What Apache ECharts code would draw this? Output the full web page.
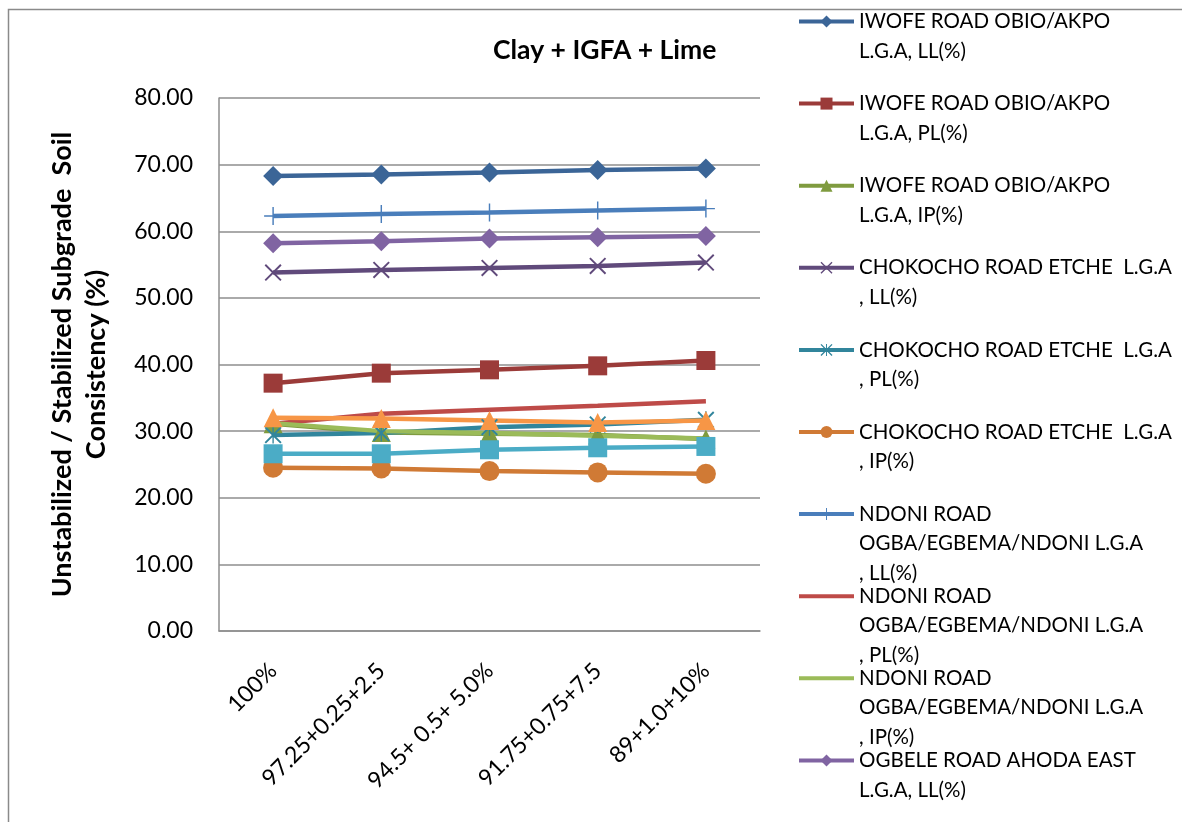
<!DOCTYPE html>
<html>
<head>
<meta charset="utf-8">
<title>Clay + IGFA + Lime</title>
<script src="https://cdn.jsdelivr.net/npm/echarts@6.0.0/dist/echarts.min.js"></script>
<style>
  html, body { margin: 0; padding: 0; background: #ffffff; }
  #chart { width: 1182px; height: 822px; }
</style>
</head>
<body>
<div id="chart"></div>
<script>
// Mix proportions (Clay + IGFA + Lime)
const categories = ['100%', '97.25+0.25+2.5', '94.5+ 0.5+ 5.0%', '91.75+0.75+7.5', '89+1.0+10%'];

// Atterberg limits per road, in %
const iwofeLL = [68.3, 68.5, 68.8, 69.2, 69.4];
const iwofePL = [37.2, 38.7, 39.2, 39.8, 40.6];
const iwofeIP = [31.1, 29.8, 29.6, 29.4, 28.8];
const chokochoLL = [53.8, 54.2, 54.5, 54.8, 55.3];
const chokochoPL = [29.4, 29.7, 30.6, 31.0, 31.7];
const chokochoIP = [24.5, 24.4, 24.0, 23.8, 23.6];
const ndoniLL = [62.3, 62.6, 62.8, 63.1, 63.4];
const ndoniPL = [31.1, 32.6, 33.2, 33.8, 34.5];
const ndoniIP = [31.2, 30.0, 29.7, 29.3, 28.9];
const ogbeleLL = [58.2, 58.5, 58.9, 59.1, 59.3];
const ogbelePL = [26.6, 26.6, 27.2, 27.5, 27.7];
const ogbeleIP = [32.0, 31.9, 31.6, 31.3, 31.6];

// Series names (first text line / rest, as wrapped in the key)
const seriesNames = [
  ['IWOFE ROAD OBIO/AKPO', 'L.G.A, LL(%)'],
  ['IWOFE ROAD OBIO/AKPO', 'L.G.A, PL(%)'],
  ['IWOFE ROAD OBIO/AKPO', 'L.G.A, IP(%)'],
  ['CHOKOCHO ROAD ETCHE  L.G.A', ', LL(%)'],
  ['CHOKOCHO ROAD ETCHE  L.G.A', ', PL(%)'],
  ['CHOKOCHO ROAD ETCHE  L.G.A', ', IP(%)'],
  ['NDONI ROAD', 'OGBA/EGBEMA/NDONI L.G.A', ', LL(%)'],
  ['NDONI ROAD', 'OGBA/EGBEMA/NDONI L.G.A', ', PL(%)'],
  ['NDONI ROAD', 'OGBA/EGBEMA/NDONI L.G.A', ', IP(%)'],
  ['OGBELE ROAD AHODA EAST', 'L.G.A, LL(%)'],
  ['OGBELE ROAD AHODA EAST', 'L.G.A, PL(%)'],
  ['OGBELE ROAD AHODA EAST', 'L.G.A, IP(%)']
];
const seriesValues = [iwofeLL, iwofePL, iwofeIP, chokochoLL, chokochoPL, chokochoIP,
                      ndoniLL, ndoniPL, ndoniIP, ogbeleLL, ogbelePL, ogbeleIP];

// Line-marker glyphs drawn as filled outlines
const X_MARK = 'path://M0,1.6 L1.6,0 L20,18.4 L18.4,20 Z M18.4,0 L20,1.6 L1.6,20 L0,18.4 Z';
const PLUS_MARK = 'path://M9.2,0 H10.8 V9.2 H20 V10.8 H10.8 V20 H9.2 V10.8 H0 V9.2 H9.2 Z';
const STAR_MARK = 'path://M0,1.6 L1.6,0 L20,18.4 L18.4,20 Z M18.4,0 L20,1.6 L1.6,20 L0,18.4 Z M9.2,0 H10.8 V20 H9.2 Z';

const seriesLook = [
  { color: '#3B6597', symbol: 'diamond', size: 20 },
  { color: '#9B3B39', symbol: 'rect', size: 19 },
  { color: '#7F9B3F', symbol: 'triangle', size: 19 },
  { color: '#604A7B', symbol: X_MARK, size: 17 },
  { color: '#31859C', symbol: STAR_MARK, size: 17 },
  { color: '#D07A35', symbol: 'circle', size: 20 },
  { color: '#4A7EBB', symbol: PLUS_MARK, size: 18 },
  { color: '#BE4B48', symbol: 'none', size: 0 },
  { color: '#9BBB59', symbol: 'none', size: 0 },
  { color: '#8064A2', symbol: 'diamond', size: 20 },
  { color: '#4BACC6', symbol: 'rect', size: 19 },
  { color: '#F79646', symbol: 'triangle', size: 19 }
];

const fullName = parts => parts.join(' ');

const series = seriesValues.map((vals, i) => ({
  name: fullName(seriesNames[i]),
  type: 'line',
  data: vals,
  symbol: seriesLook[i].symbol,
  symbolSize: seriesLook[i].size,
  showSymbol: seriesLook[i].symbol !== 'none',
  lineStyle: { color: seriesLook[i].color, width: 4.5 },
  itemStyle: { color: seriesLook[i].color },
  emphasis: { disabled: true }
}));

// Key on the right: one block per entry, first line level with the swatch
const KEY_COUNT = 10;
const keyFirstLine = 21.5;
const keyStep = 82.1;
const keyLineHeight = 29.5;
const legends = [];
for (let i = 0; i < KEY_COUNT; i++) {
  const parts = seriesNames[i];
  const pad = parts.length - 1;           // blank lines that put line 1 at the block centre
  const blockLines = parts.length + pad;
  const noMarker = seriesLook[i].symbol === 'none';
  legends.push({
    data: [fullName(parts)],
    left: 797,
    top: keyFirstLine + i * keyStep - blockLines * keyLineHeight / 2,
    padding: 0,
    itemWidth: 55,
    itemHeight: 15,
    itemGap: 0,
    itemStyle: noMarker ? { opacity: 0 } : {},
    lineStyle: { width: 4 },
    formatter: () => '\n'.repeat(pad) + parts.join('\n'),
    textStyle: { fontFamily: 'Lato', fontSize: 20.5, lineHeight: keyLineHeight, color: '#000' }
  });
}

const chart = echarts.init(document.getElementById('chart'), null, { renderer: 'canvas' });
chart.setOption({
  animation: false,
  backgroundColor: '#ffffff',
  title: {
    text: 'Clay + IGFA + Lime',
    left: 488,
    top: 32,
    textStyle: { fontFamily: 'Lato', fontWeight: 'bold', fontSize: 26.5, color: '#000' }
  },
  graphic: [{
    type: 'rect',
    silent: true,
    shape: { x: 8.5, y: 9.5, width: 1400, height: 1000 },
    style: { fill: 'none', stroke: '#8a8a8a', lineWidth: 1.5 }
  }],
  legend: legends,
  grid: { left: 219, right: 422, top: 98, bottom: 191 },
  xAxis: {
    type: 'category',
    data: categories,
    boundaryGap: true,
    axisLine: { show: true, lineStyle: { color: '#8e8e8e', width: 1.5 } },
    axisTick: { show: false },
    axisLabel: {
      interval: 0, rotate: 45, margin: 36,
      fontFamily: 'Lato', fontSize: 23, color: '#000'
    }
  },
  yAxis: {
    type: 'value',
    min: 0, max: 80, interval: 10,
    name: 'Unstabilized / Stabilized Subgrade  Soil\nConsistency (%)',
    nameLocation: 'middle',
    nameRotate: 90,
    nameGap: 140,
    nameTextStyle: {
      fontFamily: 'Lato', fontWeight: 'bold', fontSize: 27, lineHeight: 34,
      color: '#000', align: 'center', verticalAlign: 'middle'
    },
    axisLine: { show: true, lineStyle: { color: '#8e8e8e', width: 1.5 } },
    axisTick: { show: false },
    splitLine: { show: true, lineStyle: { color: '#8e8e8e', width: 1.5 } },
    axisLabel: {
      margin: 26,
      formatter: v => v.toFixed(2),
      fontFamily: 'Lato', fontSize: 23, color: '#000'
    }
  },
  series: series
});
</script>
</body>
</html>
